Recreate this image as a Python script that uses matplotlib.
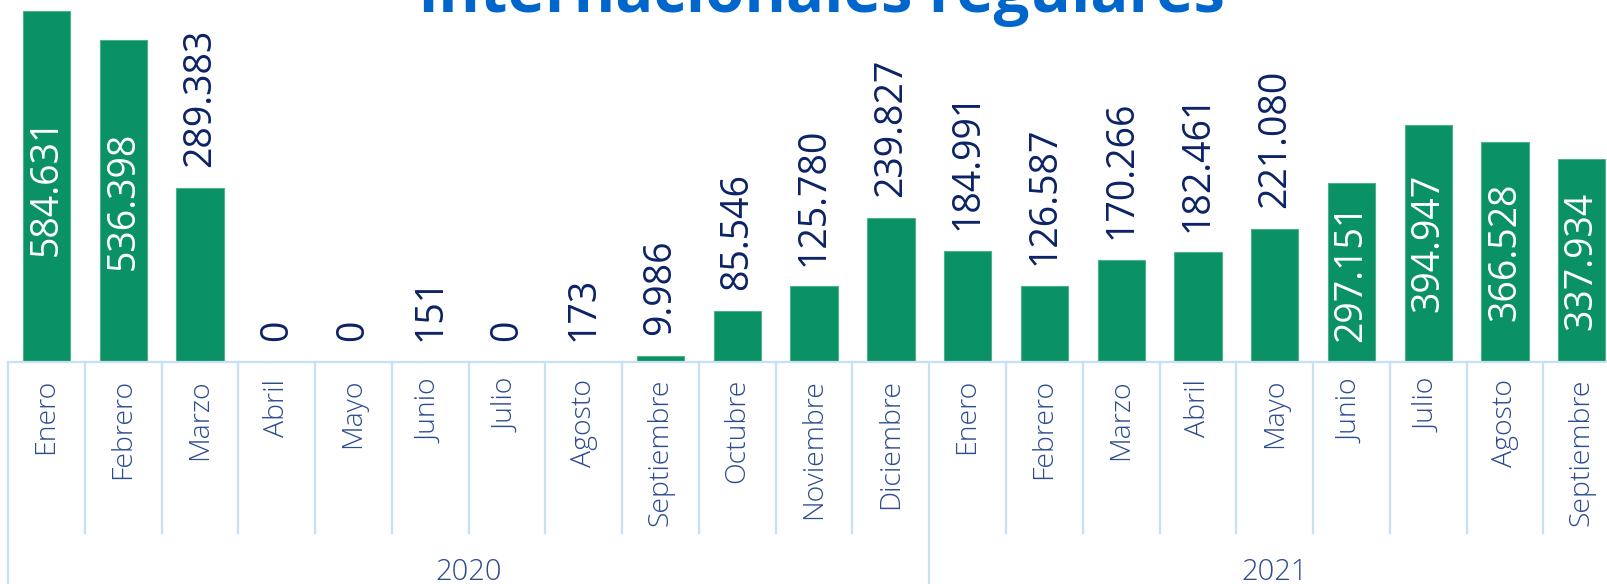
import matplotlib
matplotlib.use('Agg')
import matplotlib.pyplot as plt
from matplotlib.transforms import blended_transform_factory

# ── Datos ────────────────────────────────────────────────────
meses = ['Enero', 'Febrero', 'Marzo', 'Abril', 'Mayo', 'Junio', 'Julio',
         'Agosto', 'Septiembre', 'Octubre', 'Noviembre', 'Diciembre',
         'Enero', 'Febrero', 'Marzo', 'Abril', 'Mayo', 'Junio', 'Julio',
         'Agosto', 'Septiembre']
anios = ['2020', '2021']
meses_por_anio = [12, 9]
pasajeros = [584631, 536398, 289383, 0, 0, 151, 0, 173, 9986, 85546,
             125780, 239827, 184991, 126587, 170266, 182461, 221080,
             297151, 394947, 366528, 337934]
# etiqueta dentro de la barra (blanca) o encima (azul oscuro)
dentro = [True, True] + [False] * 15 + [True, True, True, True]

titulo = 'internacionales regulares'

# ── Estilo ───────────────────────────────────────────────────
VERDE = '#0A9165'
AZUL_TIT = '#0066CC'
AZUL_OSC = '#0B2366'
AZUL_MES = '#2D4C8E'
LINEA = '#C8E0F6'
FUENTE = 'Open Sans'

W, H = 1607, 584
fig = plt.figure(figsize=(W / 100, H / 100), dpi=100)
fig.patch.set_facecolor('white')

cat_w = 76.77           # px por categoria
base_y = 362            # px desde arriba
n = len(meses)
ax = fig.add_axes([8 / W, (H - base_y) / H, n * cat_w / W, base_y / H])
ax.set_xlim(-0.5, n - 0.5)
ax.set_ylim(0, 602450)
ax.axis('off')

x = list(range(n))
ax.bar(x, pasajeros, width=0.616, color=VERDE, edgecolor='#4FB08E',
       linewidth=0.8, zorder=2)

# ── Etiquetas de valor ───────────────────────────────────────
for xi, v, d in zip(x, pasajeros, dentro):
    txt = f'{v:,}'.replace(',', '.')
    if d:
        ax.text(xi, v / 2, txt, rotation=90, ha='center', va='center',
                color='white', fontsize=27, family=FUENTE)
    else:
        ax.annotate(txt, (xi, v), xytext=(0, 15), textcoords='offset points',
                    rotation=90, ha='center', va='bottom', color=AZUL_OSC,
                    fontsize=27, family=FUENTE)

# ── Eje de categorias (tabla) ────────────────────────────────
tr = blended_transform_factory(ax.transData, ax.transAxes)
px = 1 / base_y
ax.plot([-0.5, n - 0.5], [0, 0], transform=tr, color=LINEA, lw=1.6,
        clip_on=False, zorder=3)

bordes_anio = [-0.5]
acum = 0
for m in meses_por_anio:
    acum += m
    bordes_anio.append(acum - 0.5)

for i in range(n + 1):
    xb = i - 0.5
    y_fin = -(H - base_y + 20) * px if xb in bordes_anio else -(533 - base_y) * px
    ax.plot([xb, xb], [0, y_fin], transform=tr, color=LINEA, lw=1.6,
            clip_on=False, zorder=3)

for xi, mes in zip(x, meses):
    ax.text(xi, -(379 - base_y) * px, mes, transform=tr, rotation=90,
            ha='center', va='top', color=AZUL_MES, fontsize=20.5,
            family=FUENTE, fontweight='light')

for a, b, anio in zip(bordes_anio[:-1], bordes_anio[1:], anios):
    ax.text((a + b) / 2, -(572 - base_y) * px, anio, transform=tr,
            ha='center', va='center', color=AZUL_MES, fontsize=21,
            family=FUENTE, fontweight='light')

# ── Titulo (recortado arriba, como en el original) ───────────
fig.text(822 / W, 1 - 12 / H, titulo, ha='center', va='baseline',
         color=AZUL_TIT, fontsize=45.5, fontweight='bold', family=FUENTE)

plt.savefig('out.png', dpi=100)
plt.close()
